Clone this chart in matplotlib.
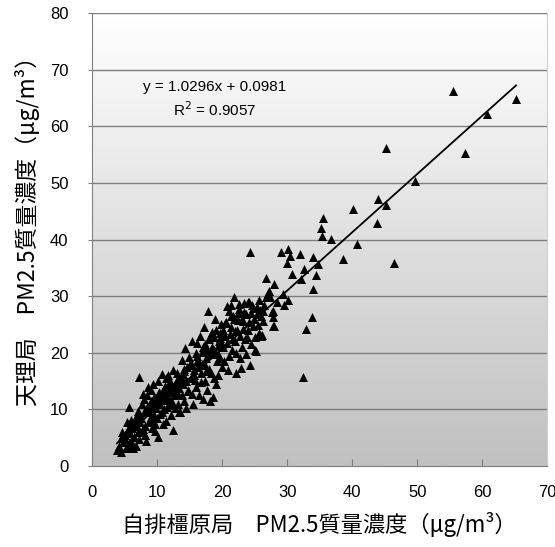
import numpy as np
import matplotlib.pyplot as plt

# station comparison, PM2.5 mass concentration (ug/m3)
x_kashihara = [
    3.8, 4.5, 4.2, 4.8, 5.2, 5.8, 6.3, 5.0, 4.6, 5.5, 6.0, 6.5, 5.7, 6.8, 7.0, 6.2, 5.3, 6.6, 4.4, 5.9, 7.2, 6.9,
    7.2, 7.5, 7.8, 8.0, 8.2, 8.5, 8.8, 9.0, 9.2, 9.5, 9.8, 7.6, 8.4, 9.0, 9.6, 8.1, 7.4, 9.9, 8.7, 9.3, 7.9, 8.6,
    9.4, 10.0, 10.2, 9.7, 8.3, 7.1,
    10.8, 10.5, 10.3, 10.7, 11.0, 11.2, 11.5, 11.8, 12.0, 12.3, 12.5, 12.6, 12.8, 13.0, 11.4, 10.9, 11.7, 12.2,
    13.2, 12.9, 10.1, 11.1, 11.9, 12.4, 13.4, 10.6, 11.3, 12.7, 13.1, 13.3,
    13.5, 13.8, 14.0, 14.2, 14.3, 14.5, 14.8, 15.0, 15.2, 15.5, 15.7, 16.0, 16.2, 16.5, 16.8, 17.0, 17.1, 14.6,
    15.9, 16.4, 13.7, 15.3, 16.7, 14.1, 15.6, 16.1, 13.9, 14.9, 16.9, 15.4, 16.6, 14.4,
    17.3, 17.5, 17.8, 17.9, 18.0, 18.2, 18.3, 18.5, 18.6, 18.8, 19.0, 19.2, 19.4, 19.5, 19.8, 20.0, 17.6, 18.4,
    19.1, 19.7, 17.2, 18.9, 19.9, 17.7, 18.1, 19.3, 19.6, 18.7, 17.4,
    20.3, 20.5, 20.8, 21.1, 21.2, 21.5, 21.8, 22.0, 22.2, 22.5, 22.6, 22.9, 23.0, 20.6, 21.0, 21.4, 21.7, 22.3,
    22.8, 20.2, 21.6, 22.4, 20.9, 22.7, 23.1, 21.3, 22.1,
    23.2, 23.4, 23.5, 23.8, 24.0, 24.3, 24.3, 24.5, 24.6, 24.8, 25.0, 25.2, 25.4, 25.6, 25.8, 26.0, 23.6, 24.1,
    24.9, 25.5, 23.9, 25.1, 25.7, 24.4, 26.2, 23.3,
    26.3, 26.3, 26.8, 26.8, 27.1, 27.4, 27.7, 27.8, 27.8, 27.8, 28.0, 28.0, 29.1, 29.4, 29.5, 30.0, 30.2, 30.2,
    26.5, 27.2, 28.5, 26.0,
    30.5, 30.8, 32.0, 32.2, 32.5, 32.6, 32.9, 33.8, 34.0, 34.0, 34.5, 34.8, 35.2, 35.4, 35.5, 36.8, 38.6, 40.2,
    40.8, 43.8, 44.0, 45.2, 45.2, 46.5, 49.7, 55.5, 57.4, 60.8, 65.2,
    # extra points in the dense core
    5.1, 5.6, 6.1, 6.4, 6.7, 7.3, 7.7, 8.3, 8.9, 9.1, 9.5, 10.0, 10.4, 10.9, 11.3, 11.6, 12.1, 12.6, 13.0, 13.6,
    14.0, 14.7, 15.1, 15.8, 16.3, 16.9, 17.5, 18.2, 18.8, 19.4, 20.1, 20.7, 21.3, 21.9, 22.6, 23.2, 23.7, 24.2,
    24.7, 25.3, 6.0, 7.0, 8.0, 9.0, 10.2, 11.0, 12.0, 13.2, 14.2, 15.4, 16.2, 17.4, 18.5, 19.6, 20.4, 21.8,
]
y_tenri = [
    2.8, 2.5, 3.5, 4.2, 3.1, 3.2, 3.2, 5.5, 6.0, 6.5, 4.5, 5.2, 10.4, 3.6, 6.0, 7.2, 7.8, 8.0, 5.0, 5.8, 4.8, 7.0,
    15.7, 8.5, 6.5, 9.5, 7.0, 10.5, 8.0, 11.5, 6.8, 9.0, 12.0, 11.0, 12.5, 13.5, 7.5, 5.5, 7.8, 10.2, 9.8, 10.8, 12.8, 14.0,
    14.5, 8.5, 5.1, 6.2, 4.5, 9.3,
    16.3, 11.0, 13.0, 9.5, 12.0, 14.2, 10.5, 13.0, 15.0, 11.3, 6.4, 12.5, 14.5, 16.5, 8.0, 7.5, 16.0, 9.0,
    11.0, 13.5, 15.0, 10.0, 11.8, 17.0, 13.8, 12.2, 15.5, 10.2, 15.2, 9.5,
    9.5, 12.5, 14.5, 16.8, 20.8, 10.2, 13.5, 18.0, 15.5, 11.0, 17.0, 14.0, 19.5, 12.5, 16.5, 21.0, 11.8, 17.5,
    20.0, 18.3, 15.8, 12.8, 14.8, 11.5, 16.0, 21.8, 18.8, 19.2, 18.0, 22.0, 23.0, 15.0,
    15.0, 19.0, 27.4, 22.5, 17.2, 11.5, 16.4, 23.7, 12.2, 20.5, 24.0, 18.5, 16.1, 22.0, 25.1, 21.5, 13.5, 19.8,
    14.5, 19.0, 24.5, 26.0, 17.5, 20.5, 23.0, 21.2, 23.5, 15.5, 17.8,
    18.5, 23.0, 28.3, 27.4, 23.3, 20.5, 29.9, 22.0, 16.4, 25.8, 28.6, 17.3, 21.0, 25.5, 19.5, 24.5, 26.5, 24.0,
    19.0, 21.0, 22.5, 27.0, 17.0, 23.0, 26.0, 28.5, 20.0,
    25.6, 28.8, 22.5, 22.8, 28.9, 17.8, 37.8, 27.0, 28.5, 24.7, 20.5, 20.3, 28.1, 23.5, 27.6, 23.0, 19.8, 25.5,
    26.0, 25.0, 24.0, 22.8, 29.3, 21.5, 23.1, 27.2,
    25.6, 27.3, 33.3, 29.9, 30.6, 29.9, 27.2, 24.7, 26.3, 27.4, 32.2, 24.7, 37.8, 30.4, 28.4, 35.9, 38.3, 29.3,
    28.5, 31.0, 29.0, 26.5,
    37.1, 33.9, 37.5, 33.0, 15.8, 34.8, 24.2, 26.3, 36.9, 31.3, 33.7, 35.7, 42.0, 40.6, 43.8, 40.1, 36.6, 45.4,
    39.2, 42.9, 47.1, 46.1, 56.2, 35.9, 50.4, 66.2, 55.3, 62.2, 64.8,
    4.8, 4.0, 6.8, 5.2, 8.6, 9.0, 6.2, 9.6, 10.2, 7.8, 12.2, 11.4, 9.2, 13.2, 11.6, 13.8, 10.8, 14.0, 12.8, 15.0,
    16.2, 13.2, 17.8, 15.2, 17.5, 20.2, 16.8, 20.0, 22.8, 19.8, 24.0, 21.8, 26.5, 23.8, 27.8, 24.2, 26.8, 29.0,
    28.0, 26.8, 8.2, 9.8, 11.8, 8.6, 11.8, 13.6, 14.0, 14.8, 17.2, 17.8, 18.6, 21.6, 21.0, 22.6, 25.2, 26.0,
]
slope, intercept = 1.0296, 0.0981
r2 = 0.9057

x = np.array(x_kashihara)
y = np.array(y_tenri)

fig = plt.figure(figsize=(5.55, 5.47), dpi=100)
ax = fig.add_axes([0.166, 0.148, 0.82, 0.828])

# white-to-grey vertical gradient behind the plot
grad = np.linspace(0, 1, 256).reshape(-1, 1)
ax.imshow(grad, extent=[0, 70, 0, 80], aspect='auto', origin='upper',
          cmap=plt.matplotlib.colors.LinearSegmentedColormap.from_list('bg', ['#ffffff', '#c0c0c0']),
          zorder=0)

for yy in range(10, 81, 10):
    ax.axhline(yy, color='#7f7f7f', lw=1.0, zorder=1)

ax.scatter(x, y, marker='^', s=42, color='black', linewidths=0, zorder=3)

xs = np.array([x.min(), x.max()])
ax.plot(xs, slope * xs + intercept, color='black', lw=1.3, zorder=4)

ax.text(18.9, 67.0, f'y = {slope}x + {intercept}', ha='center', va='center',
        fontsize=11, family='Liberation Sans', zorder=5)
ax.text(18.9, 62.9, f'R$^2$ = {r2}', ha='center', va='center',
        fontsize=11, family='Liberation Sans', zorder=5)

ax.set_xlim(0, 70)
ax.set_ylim(0, 80)
ax.set_xticks(range(0, 71, 10))
ax.set_yticks(range(0, 81, 10))
ax.tick_params(axis='x', direction='in', length=5, color='#7f7f7f', pad=14, labelsize=12)
ax.tick_params(axis='y', direction='out', length=3, color='#7f7f7f', pad=14, labelsize=12)
for lab in ax.get_xticklabels() + ax.get_yticklabels():
    lab.set_family('Liberation Sans')

ax.spines['left'].set_color('#7f7f7f')
ax.spines['bottom'].set_color('#7f7f7f')
ax.spines['top'].set_visible(False)
ax.spines['right'].set_color('#d0d0d0')

cjk = ['Noto Sans CJK JP', 'DejaVu Sans']
ax.set_xlabel('自排橿原局　PM2.5質量濃度（μg/m³）', family=cjk, fontsize=16, labelpad=8)
ax.set_ylabel('天理局　PM2.5質量濃度（μg/m³）', family=cjk, fontsize=16.5)
ax.yaxis.set_label_coords(-0.115, 0.53)

fig.savefig('out.png', dpi=100)
